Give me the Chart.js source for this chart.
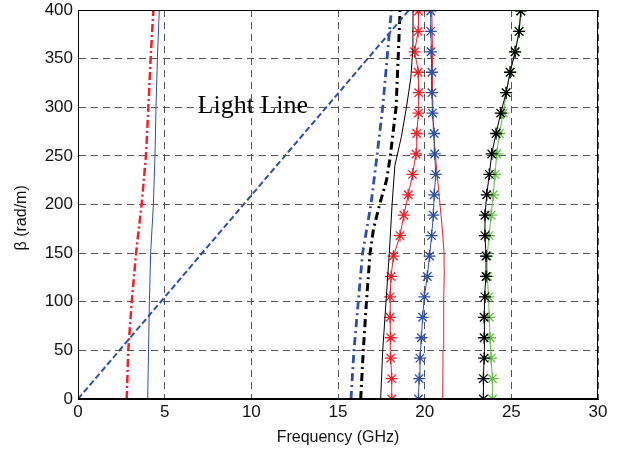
<!DOCTYPE html>
<html>
<head>
<meta charset="utf-8">
<script src="https://cdn.jsdelivr.net/npm/chart.js@4/dist/chart.umd.min.js"></script>
<style>
  html, body { margin: 0; padding: 0; background: #fff; }
  #wrap { width: 626px; height: 453px; position: relative; }
</style>
</head>
<body>
<div id="wrap"><canvas id="c" width="626" height="453"></canvas></div>
<script>
// ---- Data (frequency in GHz vs beta in rad/m) ----
const xTicks = [0, 5, 10, 15, 20, 25, 30];
const yTicks = [0, 50, 100, 150, 200, 250, 300, 350, 400];

// beta samples for the marked (starred) curves
const betaStar = [0, 21, 42, 63, 84, 105, 126, 147, 168, 189, 210, 231, 252, 273, 294, 315, 336, 357, 378, 399];
const redStarF   = [18.10, 18.10, 18.04, 18.04, 18.00, 18.00, 18.06, 18.20, 18.58, 18.80, 19.05, 19.30, 19.50, 19.54, 19.64, 19.66, 19.62, 19.42, 19.62, 19.64];
const blueStarF  = [19.64, 19.68, 19.73, 19.81, 19.88, 19.98, 20.15, 20.28, 20.40, 20.50, 20.55, 20.64, 20.58, 20.55, 20.45, 20.42, 20.42, 20.37, 20.35, 20.35];
const blackStarF = [23.39, 23.39, 23.43, 23.43, 23.43, 23.48, 23.54, 23.54, 23.48, 23.48, 23.58, 23.73, 23.87, 24.12, 24.39, 24.70, 24.93, 25.22, 25.45, 25.54];
const greenStarF = [23.91, 23.91, 23.83, 23.77, 23.73, 23.68, 23.62, 23.60, 23.72, 23.83, 23.96, 24.06, 24.16, 24.31, 24.54, 24.70, 24.93, 25.22, 25.45, 25.56];

// left low-frequency curves
const redDashDotB = [0, 50, 100, 150, 200, 250, 300, 350, 400];
const redDashDotF = [2.81, 2.90, 3.10, 3.35, 3.67, 3.92, 4.06, 4.19, 4.35];
const blueThinB = [0, 100, 150, 200, 250, 300, 350, 400];
const blueThinF = [4.02, 4.12, 4.19, 4.35, 4.44, 4.50, 4.58, 4.69];

// light line
const lightB = [0, 400];
const lightF = [0, 19.1];

// middle dash-dot curves
const blueDashDotB = [0, 50, 100, 150, 200, 250, 300, 350, 400];
const blueDashDotF = [15.75, 15.92, 16.17, 16.42, 16.90, 17.25, 17.58, 17.83, 18.08];
const blackDashDotB = [0, 50, 100, 150, 175, 200, 225, 250, 300, 350, 400];
const blackDashDotF = [16.31, 16.46, 16.64, 16.85, 17.05, 17.40, 17.80, 18.02, 18.35, 18.47, 18.58];

// thin solid curves
const blackThinB = [0, 50, 100, 150, 200, 240, 270, 300, 330, 360, 400];
const blackThinF = [17.46, 17.58, 17.77, 17.96, 18.12, 18.28, 18.66, 18.95, 19.20, 19.32, 19.33];
const redThinB = [0, 50, 100, 133, 150, 174, 207, 242, 277, 308, 359, 400];
const redThinF = [21.04, 21.06, 21.10, 21.13, 21.12, 21.02, 20.85, 20.66, 20.50, 20.47, 20.45, 20.41];

const annotationText = 'Light Line';

function pts(fs, bs) { return fs.map((f, i) => ({ x: f, y: bs[i] })); }

const RED = '#f0202a', BLUE = '#2f4fa8', GREEN = '#62bf45', BLACK = '#000000';

function line(label, fs, bs, color, width, dash) {
  return { label, data: pts(fs, bs), showLine: true, borderColor: color, backgroundColor: color,
    borderWidth: width, borderDash: dash || [], pointRadius: 0, tension: 0 };
}
function starred(label, fs, bs, color) {
  return { label, data: pts(fs, bs), showLine: true, borderColor: color, backgroundColor: color,
    borderWidth: 1, pointStyle: 'star', pointRadius: 6, pointBorderWidth: 1.3, pointBorderColor: color, tension: 0 };
}

const datasets = [
  line('Light Line', lightF, lightB, BLUE, 2, [6, 3]),
  line('red dash-dot low', redDashDotF, redDashDotB, RED, 2.5, [8, 3, 2, 3]),
  line('blue thin low', blueThinF, blueThinB, BLUE, 1),
  line('blue dash-dot', blueDashDotF, blueDashDotB, BLUE, 2.8, [8, 4, 2, 4]),
  line('black dash-dot', blackDashDotF, blackDashDotB, BLACK, 3, [8, 4, 2, 4]),
  line('black thin', blackThinF, blackThinB, BLACK, 1),
  starred('red starred', redStarF, betaStar, RED),
  starred('blue starred', blueStarF, betaStar, BLUE),
  line('red thin', redThinF, redThinB, RED, 1),
  starred('black starred', blackStarF, betaStar, BLACK),
  starred('green starred', greenStarF, betaStar, GREEN),
];

const framePlugin = {
  id: 'frame',
  afterDatasetsDraw(chart) {
    const { ctx, chartArea: a, scales } = chart;
    ctx.save();
    ctx.strokeStyle = '#000';
    ctx.lineWidth = 1;
    ctx.strokeRect(a.left + 0.5, a.top + 0.5, a.right - a.left - 1, a.bottom - a.top - 1);
    // annotation text
    ctx.fillStyle = '#000';
    ctx.font = '26px "Liberation Serif", "Times New Roman", serif';
    ctx.textAlign = 'left';
    ctx.textBaseline = 'alphabetic';
    ctx.fillText(annotationText, scales.x.getPixelForValue(6.9), scales.y.getPixelForValue(294));
    ctx.restore();
  }
};

const tickFont = { family: '"Liberation Sans", Arial, sans-serif', size: 17 };
const titleFont = { family: '"Liberation Sans", Arial, sans-serif', size: 16 };

new Chart(document.getElementById('c'), {
  type: 'scatter',
  data: { datasets },
  options: {
    responsive: false,
    animation: false,
    devicePixelRatio: 1,
    layout: { padding: { left: 0, right: 28, top: 0, bottom: 0 } },
    plugins: { legend: { display: false }, tooltip: { enabled: false } },
    scales: {
      x: {
        type: 'linear', min: 0, max: 30,
        afterBuildTicks: (s) => { s.ticks = xTicks.map(v => ({ value: v })); },
        afterFit: (s) => { s.height = 54; s.paddingLeft = 0; s.paddingRight = 0; },
        ticks: { font: tickFont, color: '#111', padding: 3, maxRotation: 0 },
        grid: { color: '#555', lineWidth: 1, drawTicks: false },
        border: { display: true, color: '#000', width: 1, dash: [7, 5] },
        title: { display: true, text: 'Frequency (GHz)', font: titleFont, color: '#111', padding: { top: 0, bottom: 6 } }
      },
      y: {
        type: 'linear', min: 0, max: 400,
        afterBuildTicks: (s) => { s.ticks = yTicks.map(v => ({ value: v })); },
        afterFit: (s) => { s.width = 78; s.paddingTop = 10; s.paddingBottom = 0; },
        ticks: { font: tickFont, color: '#111', padding: 5 },
        grid: { color: '#555', lineWidth: 1, drawTicks: false },
        border: { display: true, color: '#000', width: 1, dash: [7, 5] },
        title: { display: true, text: 'β (rad/m)      ', font: titleFont, color: '#111', padding: { top: 12, bottom: 0 } }
      }
    }
  },
  plugins: [framePlugin]
});
</script>
</body>
</html>
